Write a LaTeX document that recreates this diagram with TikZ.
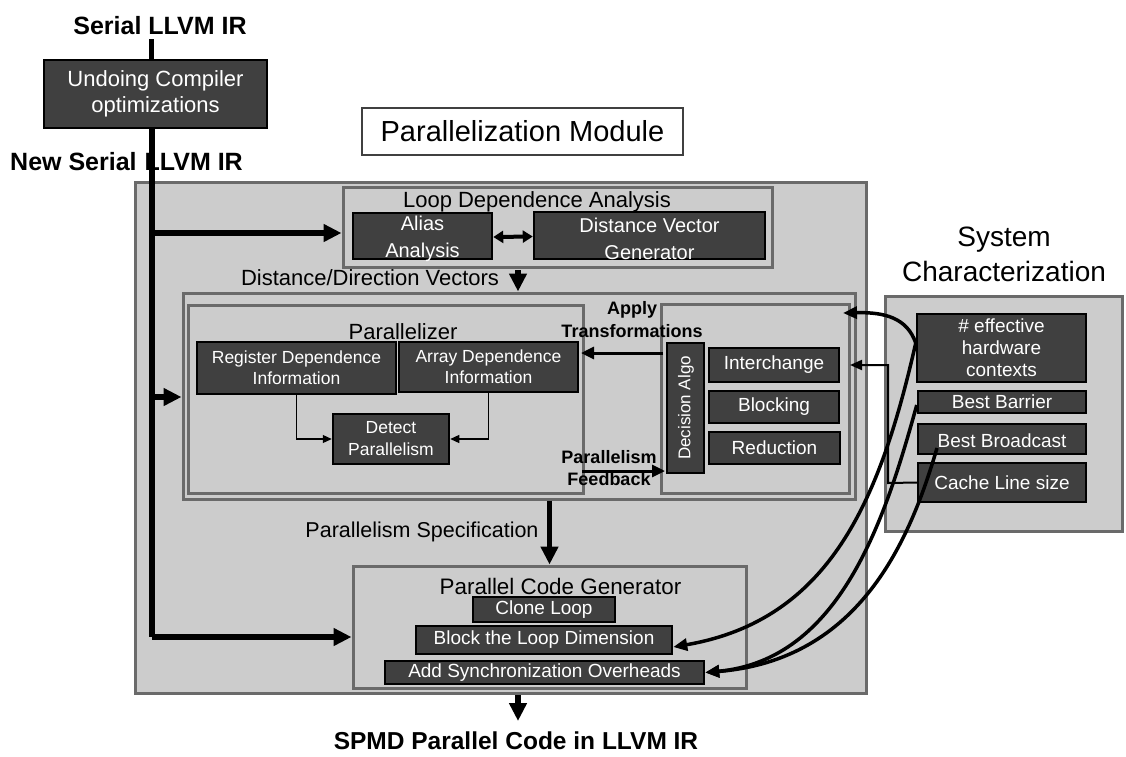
\documentclass[tikz,border=0pt]{standalone}
\usepackage{fontspec}
\setmainfont{Liberation Sans}
\usetikzlibrary{arrows.meta}
\definecolor{dk}{HTML}{404040}
\definecolor{lg}{HTML}{CCCCCC}
\definecolor{fg}{HTML}{6A6A6A}
\newcommand{\fsz}[2]{\fontsize{#1}{#2}\selectfont}
\begin{document}
\begin{tikzpicture}[x=1pt,y=-1pt,
  dbox/.style={draw=black,fill=dk,line width=2.5pt,text=white,inner sep=0pt,align=center,font=\fsz{19}{22}},
  frame/.style={draw=fg,fill=lg,line width=3pt,inner sep=0pt},
  lbl/.style={inner sep=0pt,align=center},
  bigarrow/.style={line width=5.5pt,-{Triangle[length=18pt,width=17pt]}},
  midarrow/.style={line width=3pt,-{Triangle[length=13pt,width=12pt]}},
  curvearrow/.style={line width=3.5pt,-{Triangle[length=14pt,width=12pt]}},
  thinarrow/.style={line width=1.2pt,-{Triangle[length=9pt,width=8pt]}},
  polyarrow/.style={line width=2pt,-{Triangle[length=12pt,width=10pt]}}
]
\fill[white] (0,0) rectangle (1126,756);
\useasboundingbox (0,0) rectangle (1126,756);

% top
\node[lbl,font=\fsz{25}{28}\bfseries] (serial) at (160,26) {Serial LLVM IR};
\node[dbox,minimum width=223pt,minimum height=68pt,font=\fsz{22}{26}] (undo) at (155.5,94) {Undoing Compiler\\optimizations};
\node[lbl,anchor=west,font=\fsz{25}{28}\bfseries] (newserial) at (10,162) {New Serial\hspace{8pt}LLVM IR};
\node[draw=black!75,fill=white,line width=1.2pt,minimum width=321pt,minimum height=47pt,inner sep=0pt,font=\fsz{29}{32}] (pm) at (522.5,131.5) {Parallelization Module};

% main module
\node[frame,minimum width=731pt,minimum height=511pt] (big) at (500.5,437.5) {};
\node[frame,minimum width=237pt,minimum height=235pt] (sys) at (1003.5,413.5) {};
\node[lbl,font=\fsz{28}{35}] (systxt) at (1004,254) {System\\Characterization};

% loop dependence analysis
\node[frame,minimum width=429pt,minimum height=80pt] (lda) at (557.5,227) {};
\node[lbl,font=\fsz{22}{26}] (ldatxt) at (537,202) {Loop Dependence Analysis};
\node[dbox,minimum width=139pt,minimum height=46pt,font=\fsz{20}{27}] (alias) at (422.5,236) {};
\node[lbl,text=white,font=\fsz{20}{27}] (aliastxt) at (422.5,238.5) {Alias\\Analysis};
\node[dbox,minimum width=231pt,minimum height=47pt,font=\fsz{20}{27}] (dvg) at (649.5,235.5) {};
\node[lbl,text=white,font=\fsz{20}{27}] (dvgtxt) at (649.5,238.5) {Distance Vector\\Generator};
\node[lbl,font=\fsz{22}{26}] (ddv) at (370,278) {Distance/Direction Vectors};

% parallelizer region
\node[frame,minimum width=672pt,minimum height=206pt] (outer) at (519,396) {};
\node[frame,minimum width=395pt,minimum height=188pt] (par) at (385.5,399) {};
\node[lbl,font=\fsz{22}{26}] (partxt) at (403,332) {Parallelizer};
\node[dbox,minimum width=199pt,minimum height=52pt,font=\fsz{17.5}{21}] (reg) at (296.5,368) {Register Dependence\\Information};
\node[dbox,minimum width=179pt,minimum height=50pt,font=\fsz{17.5}{21}] (arr) at (488.5,367) {Array Dependence\\Information};
\node[dbox,minimum width=116pt,minimum height=50pt,font=\fsz{17.5}{22}] (det) at (391,439) {Detect\\Parallelism};

\node[frame,minimum width=188pt,minimum height=189pt] (dframe) at (755,398.5) {};
\node[dbox,minimum width=37pt,minimum height=130pt] (dalgo) at (685.5,408) {};
\node[lbl,text=white,rotate=90,font=\fsz{17}{20}] (dalgotxt) at (686,408) {Decision Algo};
\node[dbox,minimum width=130pt,minimum height=34pt] (inter) at (774,365) {Interchange};
\node[dbox,minimum width=130pt,minimum height=32pt] (block) at (774,407) {Blocking};
\node[dbox,minimum width=131pt,minimum height=32pt] (red) at (774.5,448) {Reduction};
\node[lbl,font=\fsz{18}{23}\bfseries] (apply) at (632,320) {Apply\\Transformations};
\node[lbl,font=\fsz{18}{22}\bfseries] (feedback) at (609,468) {Parallelism\\Feedback};

% system characterization boxes
\node[dbox,minimum width=169pt,minimum height=68pt] (eff) at (1001.5,348) {\# effective\\hardware\\contexts};
\node[dbox,minimum width=168pt,minimum height=22pt] (barrier) at (1002,402) {Best Barrier};
\node[dbox,minimum width=168pt,minimum height=30pt] (bcast) at (1002,439) {};
\node[lbl,text=white,font=\fsz{19}{22}] (bcasttxt) at (1002,441) {Best Broadcast};
\node[dbox,minimum width=168pt,minimum height=39pt] (cache) at (1002,482.5) {Cache Line size};

% code generator
\node[lbl,font=\fsz{21.5}{26}] (spec) at (422,532) {Parallelism Specification};
\node[frame,minimum width=393pt,minimum height=122pt] (pcg) at (549.5,627) {};
\node[lbl,font=\fsz{22.4}{26}] (pcgtxt) at (560.5,586) {Parallel Code Generator};
\node[dbox,minimum width=142pt,minimum height=25pt] (clone) at (544,609.5) {Clone Loop};
\node[dbox,minimum width=256pt,minimum height=28pt] (blk) at (544,640) {Block the Loop Dimension};
\node[dbox,minimum width=319pt,minimum height=23pt] (sync) at (544.5,672.5) {Add Synchronization Overheads};
\node[lbl,font=\fsz{24.5}{28}\bfseries] (spmd) at (516,741) {SPMD Parallel Code in LLVM IR};

% coordinates
\coordinate (s1) at (151,39);
\coordinate (t0) at (152,127);
\coordinate (t1) at (152,637);
\coordinate (b1) at (152,233);
\coordinate (b2) at (152,397);
\coordinate (d1) at (518,270);
\coordinate (o1) at (518,695);
\coordinate (o2) at (518,721);
\coordinate (a1) at (663,353);
\coordinate (a2) at (581,353);
\coordinate (f1) at (582,471);
\coordinate (f2) at (665,471);
\coordinate (up) at (843,313);
\coordinate (p1) at (888,483);
\coordinate (p2) at (888,365);
\coordinate (p3) at (850,365);
\coordinate (bs) at (937,448);

% connectors
\draw[line width=5pt] (s1) -- (s1 |- undo.north);
\draw[line width=5.5pt] (t0) -- (t1);
\draw[bigarrow] (b1) -- (b1 -| lda.west);
\draw[bigarrow] (b2) -- (b2 -| outer.west);
\draw[bigarrow] (t1) -- (t1 -| pcg.west);
\draw[line width=4pt,{Triangle[length=10pt,width=12pt]}-{Triangle[length=10pt,width=12pt]}] ([yshift=-1pt]alias.east) -- ([yshift=-1pt]dvg.west);
\draw[bigarrow] (d1) -- (d1 |- outer.north);
\draw[thinarrow] (reg.south) |- (det.west);
\draw[thinarrow] (arr.south) |- (det.east);
\draw[midarrow] (a1) -- (a2);
\draw[midarrow] (f1) -- (f2);
\draw[bigarrow] (pcg.north |- outer.south) -- (pcg.north);
\draw[bigarrow] (o1) -- (o2);

% system characterization feedback
\draw[polyarrow] (cache.west) -- (p1) -- (p2) -- (p3);
\draw[curvearrow] ([yshift=5pt]eff.west) .. controls (907,318) and (885,312) .. (up);
\draw[curvearrow] ([yshift=5pt]eff.west) .. controls (880,500) and (830,620) .. ([yshift=-7pt]blk.east);
\draw[curvearrow] ([yshift=-3pt]barrier.west) .. controls (885,520) and (840,660) .. (sync.east);
\draw[curvearrow] (bs) .. controls (910,540) and (860,660) .. (sync.east);
\end{tikzpicture}
\end{document}
